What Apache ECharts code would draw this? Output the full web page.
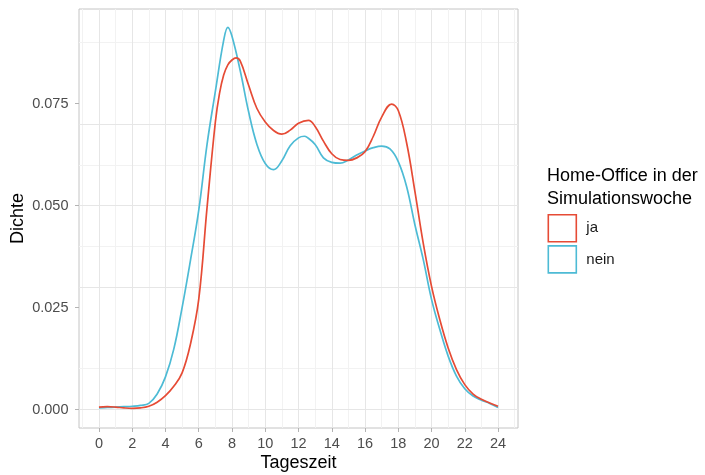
<!DOCTYPE html>
<html>
<head>
<meta charset="utf-8">
<script src="https://cdn.jsdelivr.net/npm/echarts@6/dist/echarts.min.js"></script>
<style>html,body{margin:0;padding:0;background:#fff}#c{width:705px;height:475px}</style>
</head>
<body>
<div id="c"></div>
<script>
// ---- data ----
const seriesNames = ["ja", "nein"];
const legendTitle = "Home-Office in der\nSimulationswoche";
const xTitle = "Tageszeit";
const yTitle = "Dichte";

const jaX = [0,0.5,1,1.5,2,2.5,3,3.5,4,4.5,5,5.5,6,6.5,7,7.25,7.5,7.75,8,8.25,8.5,9,9.5,10,10.5,11,11.5,12,12.6,13,13.5,14,14.5,15,15.5,16,16.5,17,17.6,18,18.5,19,19.5,20,20.5,21,21.5,22,22.5,23,23.5,24];
const jaY = [0.0006,0.0007,0.0006,0.0004,0.0003,0.0004,0.0008,0.0018,0.0034,0.0057,0.0090,0.0160,0.0270,0.0495,0.0705,0.0775,0.0820,0.0845,0.0857,0.0862,0.0854,0.0795,0.0738,0.0705,0.0684,0.0675,0.0685,0.0702,0.0709,0.0694,0.0658,0.0627,0.0613,0.0611,0.0617,0.0632,0.0670,0.0717,0.0749,0.0733,0.0654,0.0535,0.0408,0.0302,0.0220,0.0151,0.0098,0.0061,0.0038,0.0025,0.0016,0.0008];

const neinX = [0,0.5,1,1.5,2,2.5,3,3.5,4,4.5,5,5.5,6,6.5,7,7.5,7.75,8,8.5,9,9.5,10,10.5,11,11.5,12,12.35,12.5,13,13.5,14,14.5,15,15.5,16,16.5,17,17.5,18,18.5,19,19.5,20,20.5,21,21.5,22,22.5,23,23.5,24];
const neinY = [0.0004,0.0005,0.0006,0.0007,0.0008,0.0010,0.0015,0.0038,0.0080,0.0148,0.0250,0.0365,0.0488,0.0650,0.0780,0.0905,0.0937,0.0915,0.0830,0.0730,0.0650,0.0603,0.0588,0.0610,0.0647,0.0666,0.0670,0.0668,0.0650,0.0617,0.0606,0.0604,0.0612,0.0624,0.0634,0.0642,0.0646,0.0639,0.0608,0.0547,0.0453,0.0368,0.0270,0.0196,0.0131,0.0082,0.0051,0.0033,0.0023,0.0015,0.0005];

const xTicks = [0,2,4,6,8,10,12,14,16,18,20,22,24];
const xMinor = [-1,1,3,5,7,9,11,13,15,17,19,21,23,25];
const yTicks = [0,0.025,0.05,0.075];
const yMinor = [0.0125,0.0375,0.0625,0.0875];

const colors = ["#E64B35", "#4DBBD5"];
const FONT = '"Liberation Sans", Arial, Helvetica, sans-serif';

const zip = (xs, ys) => xs.map((x, i) => [x, ys[i]]);

const minorStyle = {color: "#F2F2F2", width: 1, type: "solid"};
const majorStyle = {color: "#E6E6E6", width: 1, type: "solid"};
const gridLines = [];
xMinor.forEach(v => gridLines.push({xAxis: v, lineStyle: minorStyle}));
yMinor.forEach(v => gridLines.push({yAxis: v, lineStyle: minorStyle}));
xTicks.forEach(v => gridLines.push({xAxis: v, lineStyle: majorStyle}));
yTicks.forEach(v => gridLines.push({yAxis: v, lineStyle: majorStyle}));

const chart = echarts.init(document.getElementById("c"), null, {renderer: "canvas"});
chart.setOption({
  animation: false,
  backgroundColor: "#ffffff",
  textStyle: {fontFamily: FONT},
  grid: {left: 79, right: 187, top: 9, bottom: 47, show: true, borderColor: "#C4C4C4", borderWidth: 1,
         backgroundColor: "transparent", containLabel: false, outerBoundsMode: "none"},
  xAxis: {
    type: "value", min: -1.2, max: 25.2,
    name: xTitle, nameLocation: "middle", nameGap: 26, nameMoveOverlap: false,
    nameTextStyle: {fontSize: 18, color: "#000", fontFamily: FONT},
    axisLine: {show: false, onZero: false},
    axisTick: {show: true, length: 4, lineStyle: {color: "#B3B3B3"}, customValues: xTicks},
    axisLabel: {fontSize: 14.5, color: "#4D4D4D", margin: 8, customValues: xTicks, fontFamily: FONT},
    splitLine: {show: false}
  },
  yAxis: {
    type: "value", min: -0.00453, max: 0.0982,
    name: yTitle, nameLocation: "middle", nameGap: 52, nameRotate: 90, nameMoveOverlap: false,
    nameTextStyle: {fontSize: 18, color: "#000", fontFamily: FONT},
    axisLine: {show: false, onZero: false},
    axisTick: {show: true, length: 4, lineStyle: {color: "#B3B3B3"}, customValues: yTicks},
    axisLabel: {fontSize: 14.5, color: "#4D4D4D", margin: 10.5, customValues: yTicks, formatter: v => v.toFixed(3), fontFamily: FONT},
    splitLine: {show: false}
  },
  legend: {
    orient: "vertical", left: 547.5, top: 214, padding: 0,
    itemWidth: 28, itemHeight: 27, itemGap: 2.5,
    icon: "rect",
    selectedMode: false,
    textStyle: {fontSize: 15, color: "#1A1A1A", padding: [0, 0, 0, 5], fontFamily: FONT},
    data: seriesNames.map((n, i) => ({name: n, icon: "rect", itemStyle: {color: "#ffffff", borderColor: colors[i], borderWidth: 1.6}}))
  },
  graphic: [{
    type: "text", left: 547, top: 165,
    style: {text: legendTitle, fontSize: 18, lineHeight: 22.5, fill: "#000", fontFamily: FONT}
  }],
  series: [
    {
      type: "line", name: "_grid", data: [], z: 0, silent: true,
      markLine: {silent: true, z: 0, zlevel: 0, symbol: ["none", "none"], label: {show: false}, animation: false, lineStyle: {type: "solid"}, data: gridLines}
    },
    {
      type: "line", name: seriesNames[1], data: zip(neinX, neinY), smooth: 0.4, showSymbol: false, z: 6,
      lineStyle: {color: colors[1], width: 1.7}, itemStyle: {color: colors[1]}
    },
    {
      type: "line", name: seriesNames[0], data: zip(jaX, jaY), smooth: 0.4, showSymbol: false, z: 7,
      lineStyle: {color: colors[0], width: 1.7}, itemStyle: {color: colors[0]}
    }
  ]
});
</script>
</body>
</html>
